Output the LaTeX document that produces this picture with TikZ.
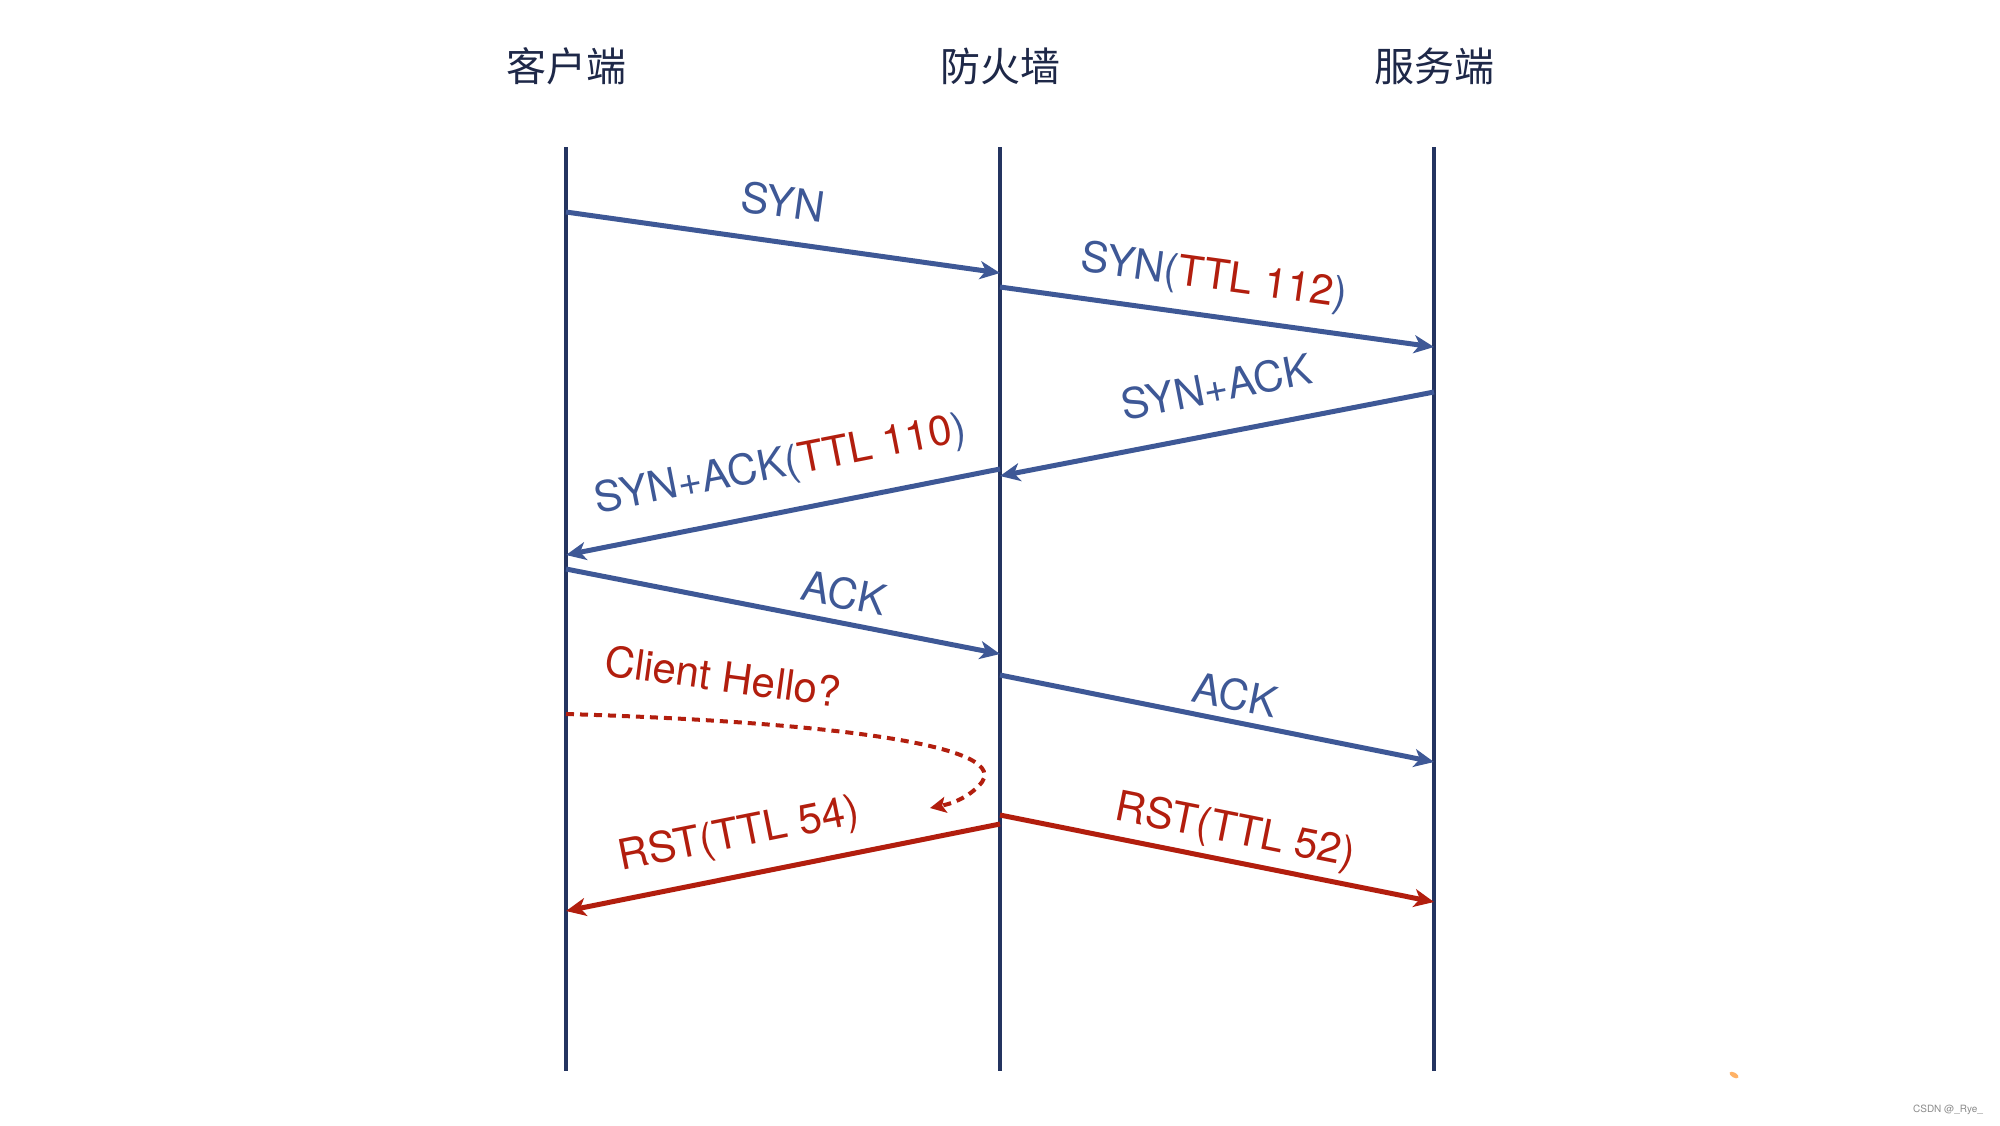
\documentclass[tikz,border=0pt]{standalone}
\usepackage{fontspec}
\setmainfont{TeX Gyre Heros}
\newfontfamily\cjk{Noto Sans CJK SC}
\usetikzlibrary{arrows.meta}
\definecolor{msgblue}{RGB}{62,88,150}
\definecolor{msgred}{RGB}{178,30,14}
\definecolor{lifenavy}{RGB}{36,52,96}
\definecolor{titlenavy}{RGB}{30,40,72}
\begin{document}
\begin{tikzpicture}[x=0.5pt,y=-0.5pt,
  lifeline/.style={draw=lifenavy,line width=1.8pt},
  title/.style={font=\cjk\fontsize{20}{24}\selectfont,text=titlenavy,inner sep=0pt},
  msg/.style={draw=msgblue,line width=2.5pt,-{Stealth[length=10pt,width=9pt,inset=2.8pt]}},
  rstmsg/.style={draw=msgred,line width=2.5pt,-{Stealth[length=10pt,width=9pt,inset=2.8pt]}},
  lbl/.style={font=\fontsize{21}{25}\selectfont,text=msgblue,inner sep=0pt},
  rlbl/.style={font=\fontsize{21}{25}\selectfont,text=msgred,inner sep=0pt},
]
\path[use as bounding box,fill=white] (0,0) rectangle (2000,1125);

% titles
\node[title] (tc) at (566,66) {客户端};
\node[title] (tf) at (1000,66) {防火墙};
\node[title] (ts) at (1434,66) {服务端};

% lifelines
\coordinate (ctop) at (566,147);
\coordinate (cbot) at (566,1071);
\coordinate (ftop) at (1000,147);
\coordinate (fbot) at (1000,1071);
\coordinate (stop) at (1434,147);
\coordinate (sbot) at (1434,1071);
\draw[lifeline] (ctop) -- (cbot);
\draw[lifeline] (ftop) -- (fbot);
\draw[lifeline] (stop) -- (sbot);

% message endpoints
\coordinate (c1) at (566,212);
\coordinate (f1) at (1000,273);
\coordinate (f2) at (1000,287);
\coordinate (s2) at (1434,347);
\coordinate (s3) at (1434,392);
\coordinate (f3) at (1000,476);
\coordinate (f4) at (1000,469);
\coordinate (c4) at (566,555);
\coordinate (c5) at (566,569);
\coordinate (f5) at (1000,654);
\coordinate (f6) at (1000,675);
\coordinate (s6) at (1434,762);
\coordinate (f8) at (1000,824);
\coordinate (c8) at (566,911);
\coordinate (f9) at (1000,815);
\coordinate (s9) at (1434,902);
\coordinate (ch0) at (566,714);
\coordinate (ch1) at (930,808);

\draw[msg] (c1) -- (f1);
\draw[msg] (f2) -- (s2);
\draw[msg] (s3) -- (f3);
\draw[msg] (f4) -- (c4);
\draw[msg] (c5) -- (f5);
\draw[msg] (f6) -- (s6);
\draw[rstmsg] (f8) -- (c8);
\draw[rstmsg] (f9) -- (s9);
\draw[draw=msgred,line width=2pt,dash pattern=on 4pt off 3pt,
  -{Stealth[length=8pt,width=8pt,inset=1.8pt]}]
  (ch0) .. controls (800,721) and (1010,742) .. (982,782)
        .. controls (972,795) and (955,803) .. (ch1);

% labels
\node[lbl,rotate=-8] (l1) at (783,202) {SYN};
\node[lbl,rotate=-7.9] (l2) at (1214,278) {SYN(\textcolor{msgred}{TTL 112})};
\node[lbl,rotate=11] (l3) at (1216,387) {SYN+ACK};
\node[lbl,rotate=11.1] (l4) at (781,466) {SYN+ACK(\textcolor{msgred}{TTL 110})};
\node[lbl,rotate=-11.1] (l5) at (844,593) {ACK};
\node[lbl,rotate=-11.3] (l6) at (1235,695) {ACK};
\node[rlbl,rotate=-7.8] (l7) at (723,676) {Client Hello?};
\node[rlbl,rotate=11.3] (l8) at (739,836) {RST(TTL 54)};
\node[rlbl,rotate=-11.3] (l9) at (1235,832) {RST(TTL 52)};

% watermark and smudge
\node[font=\fontsize{5}{6}\selectfont,text=black!45,inner sep=0pt] (wm) at (1948,1110) {CSDN @\_Rye\_};
\fill[orange!60,rotate around={-30:(1734,1075)}] (1734,1075) ellipse (5 and 2.5);
\end{tikzpicture}
\end{document}
